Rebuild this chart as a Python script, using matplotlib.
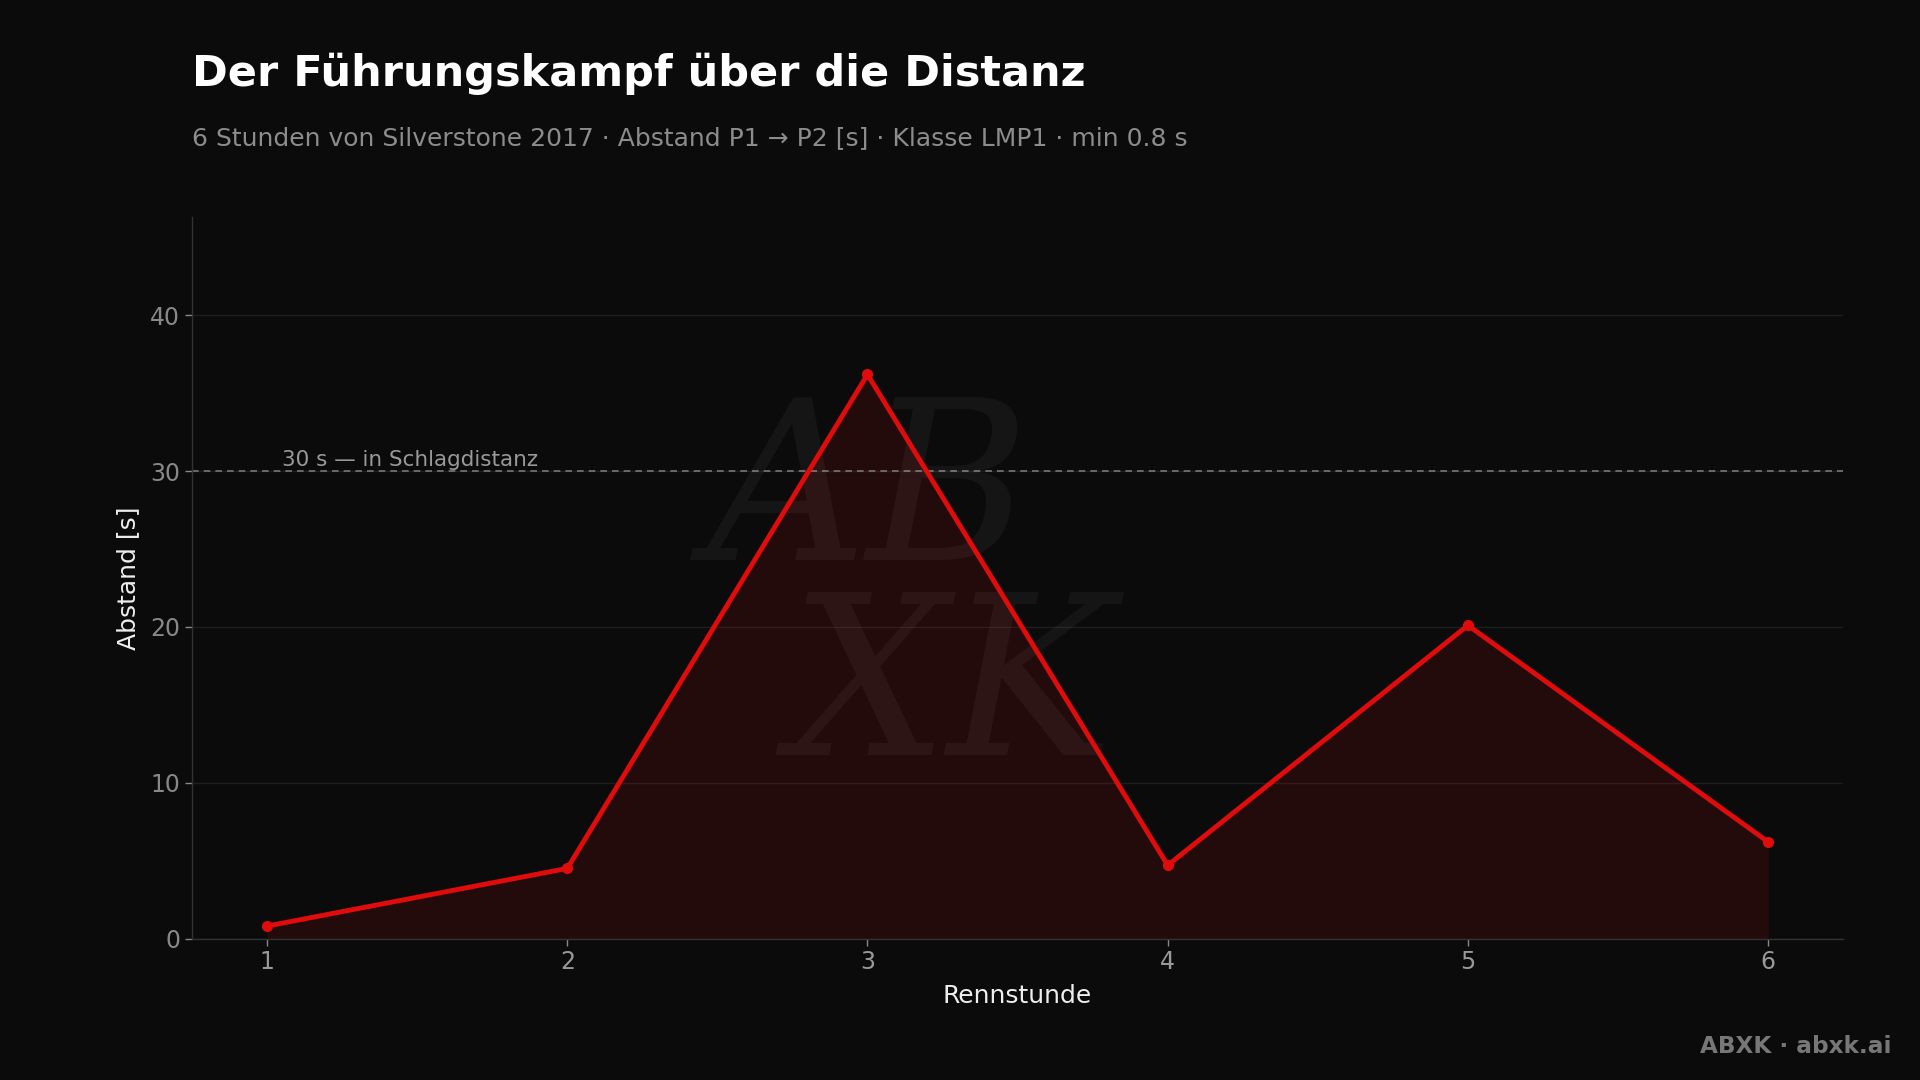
import matplotlib
matplotlib.use("Agg")
import matplotlib.pyplot as plt

hours = [1, 2, 3, 4, 5, 6]
gap_s = [0.8, 4.5, 36.2, 4.7, 20.1, 6.2]
y_ticks = [0, 10, 20, 30, 40]
threshold = 30

bg = "#0b0b0b"
red = "#e00b0b"

plt.rcParams["font.family"] = ["DejaVu Sans"]

fig = plt.figure(figsize=(19.2, 10.8), dpi=100, facecolor=bg)
ax = fig.add_axes([0.1, 0.131, 0.86, 0.668])
ax.set_facecolor(bg)

# faint watermark
ax.text(0.41, 0.61, "AB", transform=ax.transAxes, fontsize=160, style="italic",
        color="#ffffff", alpha=0.045, ha="center", va="center", family="DejaVu Serif")
ax.text(0.46, 0.34, "XK", transform=ax.transAxes, fontsize=160, style="italic",
        color="#ffffff", alpha=0.045, ha="center", va="center", family="DejaVu Serif")

ax.fill_between(hours, gap_s, 0, color=red, alpha=0.12, lw=0)
ax.plot(hours, gap_s, color=red, lw=3.5, marker="o", ms=7, zorder=5)

ax.axhline(threshold, color="#777777", lw=1.2, ls=(0, (4, 3)), zorder=2)
ax.text(1.05, threshold + 0.05, "30 s — in Schlagdistanz", color="#999999",
        fontsize=15.5, va="bottom", ha="left")

ax.set_xlim(0.75, 6.25)
ax.set_ylim(0, 46.3)
ax.set_xticks(hours)
ax.set_yticks(y_ticks)
ax.grid(axis="y", color="#ffffff", alpha=0.08, lw=1)
ax.set_axisbelow(True)

for s in ["top", "right"]:
    ax.spines[s].set_visible(False)
for s in ["left", "bottom"]:
    ax.spines[s].set_color("#333333")
    ax.spines[s].set_linewidth(1)
ax.tick_params(colors="#888888", labelsize=17, length=5, width=1)
ax.tick_params(axis="x", colors="#888888", labelcolor="#999999")

ax.set_xlabel("Rennstunde", color="#eeeeee", fontsize=18, labelpad=7)
ax.set_ylabel("Abstand [s]", color="#eeeeee", fontsize=18, labelpad=7)

fig.text(0.1, 0.92, "Der Führungskampf über die Distanz", color="#ffffff",
         fontsize=31, fontweight="bold", va="baseline")
fig.text(0.1, 0.866, "6 Stunden von Silverstone 2017 · Abstand P1 → P2 [s] · Klasse LMP1 · min 0.8 s",
         color="#8c8c8c", fontsize=18, va="baseline")
fig.text(0.985, 0.025, "ABXK · abxk.ai", color="#777777", fontsize=16.7,
         fontweight="bold", ha="right", va="baseline")

fig.savefig("out.png", dpi=100, facecolor=bg)
